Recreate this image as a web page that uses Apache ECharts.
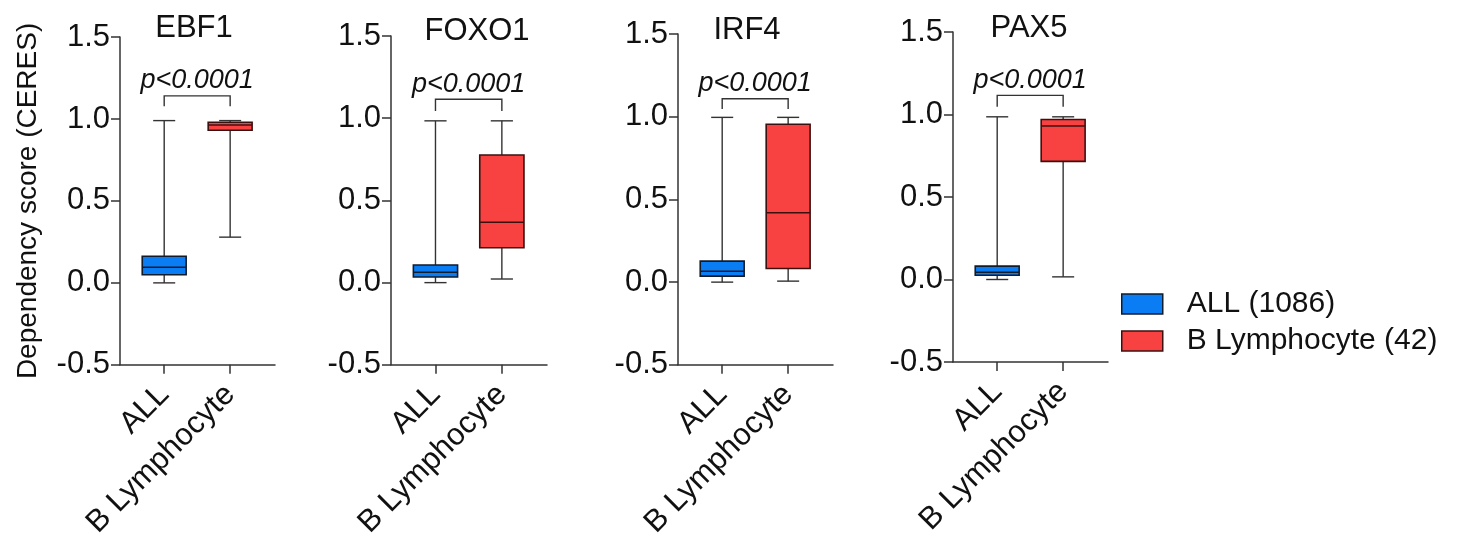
<!DOCTYPE html>
<html>
<head>
<meta charset="utf-8">
<title>Dependency score (CERES)</title>
<script src="https://cdn.jsdelivr.net/npm/echarts@6/dist/echarts.min.js"></script>
<style>
  html, body { margin: 0; padding: 0; background: #ffffff; }
  #chart { width: 1464px; height: 541px; }
</style>
</head>
<body>
<div id="chart"></div>
<script>
// Genes shown in each panel, left to right
const genes = ['EBF1', 'FOXO1', 'IRF4', 'PAX5'];
// Category labels on every x axis
const groups = ['ALL', 'B Lymphocyte'];
// Legend entries (group name with number of cell lines)
const legendNames = ['ALL (1086)', 'B Lymphocyte (42)'];
// Box statistics per gene: [min, Q1, median, Q3, max]
const allStats = [
  [0.000, 0.050, 0.095, 0.162, 0.990],
  [0.000, 0.034, 0.063, 0.107, 0.984],
  [0.000, 0.036, 0.066, 0.127, 0.996],
  [0.000, 0.026, 0.044, 0.081, 0.986]
];
const bLymphStats = [
  [0.279, 0.931, 0.963, 0.980, 0.990],
  [0.022, 0.212, 0.367, 0.776, 0.984],
  [0.006, 0.082, 0.419, 0.954, 0.996],
  [0.016, 0.716, 0.930, 0.970, 0.986]
];
// Significance bracket: top bar level and end of the drop legs
const bracketTop = [1.141, 1.115, 1.109, 1.116];
const bracketEnd = [1.077, 1.044, 1.046, 1.047];
const pLabels = ['p<0.0001', 'p<0.0001', 'p<0.0001', 'p<0.0001'];
// Y axis range and tick step
const yMin = -0.5, yMax = 1.5, yStep = 0.5;

const FONT = '"Liberation Sans", Arial, Helvetica, sans-serif';
const AXIS_COLOR = '#333333';
const TEXT_COLOR = '#111111';
const BLUE = '#0a7cf4';
const RED = '#f84141';
const BLUE_EDGE = '#101c2c';
const RED_EDGE = '#3d1010';

// Panel frames (pixels) and title centres
const panels = [
  { left: 120, top: 37, width: 155, height: 331, titleX: 194, titleTop: 13 },
  { left: 391, top: 36, width: 156, height: 331, titleX: 477, titleTop: 16 },
  { left: 678, top: 34, width: 155, height: 331, titleX: 747, titleTop: 15 },
  { left: 953, top: 32, width: 155, height: 330, titleX: 1029, titleTop: 13 }
];

function boxRenderer(fill, edge) {
  return function (params, api) {
    const x = api.value(0);
    const lo = api.coord([x, api.value(1)]);
    const q1 = api.coord([x, api.value(2)]);
    const md = api.coord([x, api.value(3)]);
    const q3 = api.coord([x, api.value(4)]);
    const hi = api.coord([x, api.value(5)]);
    const unit = api.size([1, 0])[0];
    const half = unit * 0.333;
    const cap = unit * 0.167;
    const cx = lo[0];
    const lineStyle = { stroke: AXIS_COLOR, lineWidth: 1.4 };
    return {
      type: 'group',
      children: [
        { type: 'line', shape: { x1: cx, y1: hi[1], x2: cx, y2: q3[1] }, style: lineStyle },
        { type: 'line', shape: { x1: cx, y1: q1[1], x2: cx, y2: lo[1] }, style: lineStyle },
        { type: 'line', shape: { x1: cx - cap, y1: hi[1], x2: cx + cap, y2: hi[1] }, style: lineStyle },
        { type: 'line', shape: { x1: cx - cap, y1: lo[1], x2: cx + cap, y2: lo[1] }, style: lineStyle },
        {
          type: 'rect',
          shape: { x: cx - half, y: q3[1], width: half * 2, height: q1[1] - q3[1] },
          style: { fill: fill, stroke: edge, lineWidth: 1.6 }
        },
        { type: 'line', shape: { x1: cx - half, y1: md[1], x2: cx + half, y2: md[1] }, style: { stroke: edge, lineWidth: 1.6 } }
      ]
    };
  };
}

function bracketRenderer(label) {
  return function (params, api) {
    const a = api.coord([api.value(0), api.value(2)]);
    const b = api.coord([api.value(1), api.value(2)]);
    const aEnd = api.coord([api.value(0), api.value(3)]);
    const bEnd = api.coord([api.value(1), api.value(3)]);
    return {
      type: 'group',
      children: [
        {
          type: 'polyline',
          shape: { points: [aEnd, a, b, bEnd] },
          style: { stroke: AXIS_COLOR, lineWidth: 1.4, fill: null }
        },
        {
          type: 'text',
          x: (a[0] + b[0]) / 2,
          y: a[1] - 15,
          style: {
            text: label,
            fontFamily: FONT,
            fontStyle: 'italic',
            fontSize: 27,
            fill: TEXT_COLOR,
            align: 'center',
            verticalAlign: 'middle'
          }
        }
      ]
    };
  };
}

const grid = [], xAxis = [], yAxis = [], series = [], title = [];

panels.forEach(function (p, i) {
  grid.push({ left: p.left, top: p.top, width: p.width, height: p.height, containLabel: false });
  title.push({
    text: genes[i],
    left: p.titleX,
    top: p.titleTop,
    textAlign: 'center',
    padding: 0,
    textStyle: { fontFamily: FONT, fontSize: 31, fontWeight: 'normal', color: TEXT_COLOR }
  });
  xAxis.push({
    type: 'value',
    gridIndex: i,
    min: -0.67,
    max: 1.68,
    splitLine: { show: false },
    axisLine: { show: true, onZero: false, lineStyle: { color: AXIS_COLOR, width: 1.5 } },
    axisTick: { show: true, customValues: [0, 1], length: 9, lineStyle: { color: AXIS_COLOR, width: 1.5 } },
    axisLabel: {
      customValues: [0, 1],
      rotate: 45,
      margin: 25,
      fontFamily: FONT,
      fontSize: 31,
      color: TEXT_COLOR,
      formatter: function (v) { return groups[Math.round(v)]; }
    }
  });
  yAxis.push({
    type: 'value',
    gridIndex: i,
    min: yMin,
    max: yMax,
    interval: yStep,
    name: i === 0 ? 'Dependency score (CERES)' : '',
    nameLocation: 'middle',
    nameRotate: 90,
    nameGap: 78,
    nameTextStyle: { fontFamily: FONT, fontSize: 28, color: TEXT_COLOR },
    splitLine: { show: false },
    axisLine: { show: true, onZero: false, lineStyle: { color: AXIS_COLOR, width: 1.5 } },
    axisTick: { show: true, length: 9, lineStyle: { color: AXIS_COLOR, width: 1.5 } },
    axisLabel: {
      margin: 10,
      fontFamily: FONT,
      fontSize: 31,
      color: TEXT_COLOR,
      formatter: function (v) { return v.toFixed(1); }
    }
  });
  series.push({
    type: 'custom',
    name: legendNames[0],
    xAxisIndex: i,
    yAxisIndex: i,
    itemStyle: { color: BLUE, borderColor: BLUE_EDGE },
    renderItem: boxRenderer(BLUE, BLUE_EDGE),
    data: [[0].concat(allStats[i])],
    silent: true
  });
  series.push({
    type: 'custom',
    name: legendNames[1],
    xAxisIndex: i,
    yAxisIndex: i,
    itemStyle: { color: RED, borderColor: RED_EDGE },
    renderItem: boxRenderer(RED, RED_EDGE),
    data: [[1].concat(bLymphStats[i])],
    silent: true
  });
  series.push({
    type: 'custom',
    name: 'bracket-' + genes[i],
    xAxisIndex: i,
    yAxisIndex: i,
    renderItem: bracketRenderer(pLabels[i]),
    data: [[0, 1, bracketTop[i], bracketEnd[i]]],
    silent: true
  });
});

const chart = echarts.init(document.getElementById('chart'), null, { renderer: 'canvas' });
chart.setOption({
  backgroundColor: '#ffffff',
  animation: false,
  title: title,
  grid: grid,
  xAxis: xAxis,
  yAxis: yAxis,
  legend: {
    orient: 'vertical',
    left: 1121,
    top: 289,
    padding: 0,
    itemWidth: 41,
    itemHeight: 20,
    itemGap: 7,
    icon: 'rect',
    selectedMode: false,
    textStyle: { fontFamily: FONT, fontSize: 30, color: TEXT_COLOR, padding: [0, 0, 0, 19] },
    data: [
      { name: legendNames[0], itemStyle: { color: BLUE, borderColor: BLUE_EDGE, borderWidth: 1.5 } },
      { name: legendNames[1], itemStyle: { color: RED, borderColor: RED_EDGE, borderWidth: 1.5 } }
    ]
  },
  series: series
});
</script>
</body>
</html>
